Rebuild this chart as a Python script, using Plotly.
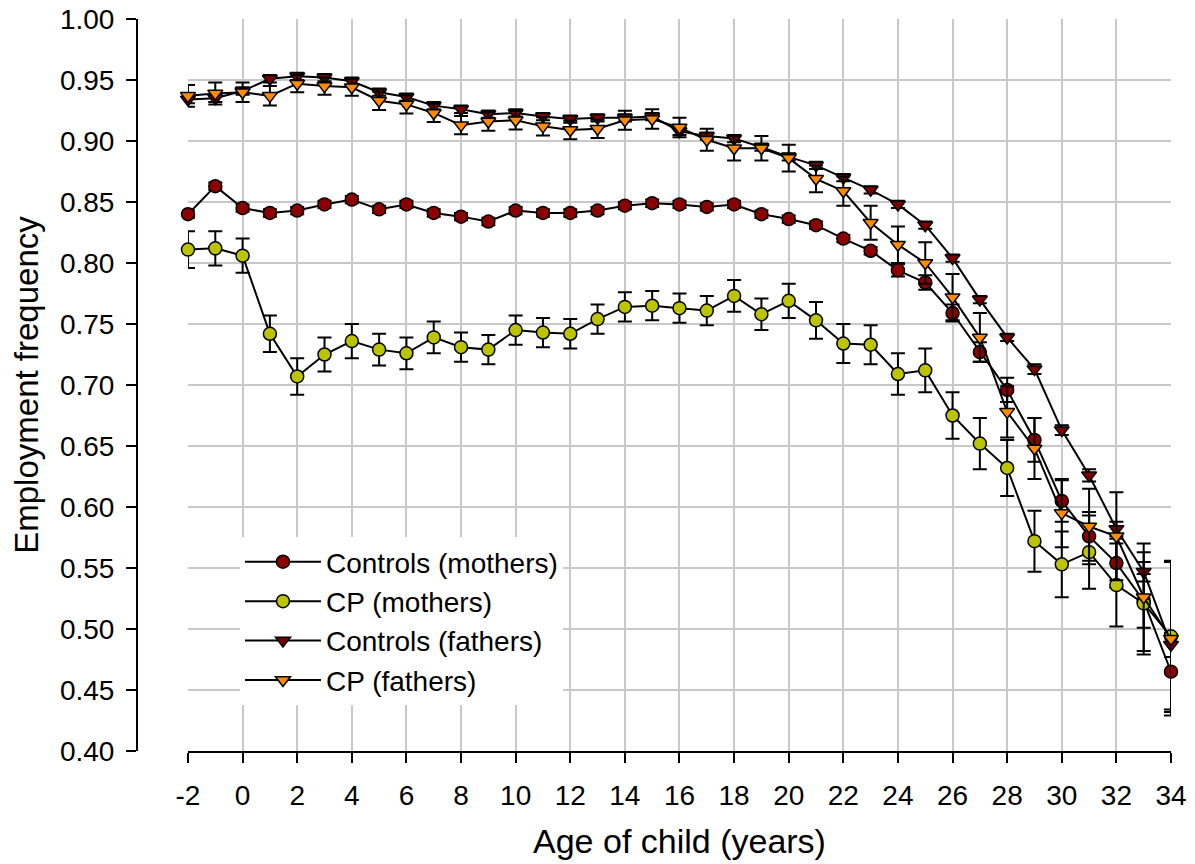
import plotly.graph_objects as go

ages = list(range(-2, 35))
x_tick_vals = list(range(-2, 35, 2))
x_tick_text = ["-2", "0", "2", "4", "6", "8", "10", "12", "14", "16", "18", "20",
               "22", "24", "26", "28", "30", "32", "34"]
y_tick_vals = [0.40, 0.45, 0.50, 0.55, 0.60, 0.65, 0.70, 0.75, 0.80, 0.85, 0.90, 0.95, 1.00]
y_tick_text = ["0.40", "0.45", "0.50", "0.55", "0.60", "0.65", "0.70", "0.75", "0.80",
               "0.85", "0.90", "0.95", "1.00"]

controls_mothers = [0.840, 0.863, 0.845, 0.841, 0.843, 0.848, 0.852, 0.844, 0.848, 0.841,
                    0.838, 0.834, 0.843, 0.841, 0.841, 0.843, 0.847, 0.849, 0.848, 0.846,
                    0.848, 0.840, 0.836, 0.831, 0.820, 0.810, 0.794, 0.784, 0.759, 0.727,
                    0.696, 0.655, 0.605, 0.576, 0.554, 0.523, 0.465]
controls_mothers_err = [0.003] * 26 + [0.005, 0.006, 0.007, 0.008, 0.010, 0.018,
                                       0.017, 0.020, 0.020, 0.022, 0.031]

cp_mothers = [0.811, 0.812, 0.806, 0.742, 0.707, 0.725, 0.736, 0.729, 0.726, 0.739,
              0.731, 0.729, 0.745, 0.743, 0.742, 0.754, 0.764, 0.765, 0.763, 0.761,
              0.773, 0.758, 0.769, 0.753, 0.734, 0.733, 0.709, 0.712, 0.675, 0.652,
              0.632, 0.572, 0.553, 0.563, 0.536, 0.521, 0.494]
cp_mothers_err = [0.015, 0.014, 0.014, 0.015, 0.015, 0.014, 0.014, 0.013, 0.013, 0.013,
                  0.012, 0.012, 0.012, 0.012, 0.012, 0.012, 0.012, 0.012, 0.012, 0.012,
                  0.013, 0.013, 0.014, 0.015, 0.016, 0.016, 0.017, 0.018, 0.019, 0.021,
                  0.023, 0.025, 0.027, 0.030, 0.034, 0.042, 0.062]

controls_fathers = [0.934, 0.935, 0.941, 0.951, 0.953, 0.952, 0.949, 0.940, 0.936, 0.929,
                    0.926, 0.922, 0.923, 0.920, 0.918, 0.919, 0.919, 0.920, 0.908, 0.904,
                    0.902, 0.895, 0.887, 0.880, 0.870, 0.860, 0.848, 0.831, 0.804, 0.770,
                    0.739, 0.713, 0.663, 0.626, 0.582, 0.547, 0.487]
controls_fathers_err = [0.003] * 30 + [0.003, 0.004, 0.004, 0.005, 0.006, 0.008, 0.010]

cp_fathers = [0.937, 0.939, 0.940, 0.937, 0.947, 0.945, 0.944, 0.933, 0.930, 0.923,
              0.913, 0.916, 0.917, 0.912, 0.909, 0.910, 0.917, 0.918, 0.911, 0.901,
              0.894, 0.894, 0.886, 0.869, 0.859, 0.833, 0.815, 0.800, 0.772, 0.739,
              0.678, 0.648, 0.595, 0.584, 0.576, 0.526, 0.492]
cp_fathers_err = [0.009, 0.009, 0.008, 0.008, 0.007, 0.007, 0.007, 0.0075, 0.0075, 0.0075,
                  0.0075, 0.0075, 0.0075, 0.0075, 0.0075, 0.0075, 0.0077, 0.008, 0.008, 0.009,
                  0.010, 0.010, 0.011, 0.011, 0.012, 0.014, 0.015, 0.017, 0.019, 0.020,
                  0.021, 0.025, 0.028, 0.031, 0.036, 0.044, 0.063]

series = [
    ("Controls (mothers)", controls_mothers, controls_mothers_err, "circle", "#8b0000", 1),
    ("Controls (fathers)", controls_fathers, controls_fathers_err, "triangle-down", "#7a0000", 3),
    ("CP (mothers)", cp_mothers, cp_mothers_err, "circle", "#bcc400", 2),
    ("CP (fathers)", cp_fathers, cp_fathers_err, "triangle-down", "#ff8c00", 4),
]

FONT = "Liberation Sans, Arial, Helvetica, sans-serif"

fig = go.Figure()
for name, vals, errs, sym, col, rank in series:
    fig.add_trace(go.Scatter(
        x=ages, y=vals, name=name, mode="lines+markers",
        line=dict(color="black", width=2),
        marker=dict(symbol=sym, size=13, color=col, line=dict(color="black", width=1.5)),
        error_y=dict(type="data", array=errs, visible=True, color="black",
                     thickness=2, width=7),
        cliponaxis=False, legendrank=rank,
    ))

fig.update_layout(
    width=1195, height=864,
    paper_bgcolor="white", plot_bgcolor="white",
    margin=dict(l=137, r=24, t=19, b=113, autoexpand=False),
    font=dict(family=FONT, size=28, color="black"),
    showlegend=True,
    legend=dict(
        x=0.0996, y=0.2923, xanchor="left", yanchor="top",
        bgcolor="white", borderwidth=0,
        font=dict(family=FONT, size=28, color="black"),
        tracegroupgap=0, itemwidth=76,
    ),
    xaxis=dict(
        domain=[0.0493, 1], range=[-2, 34], automargin=False,
        tickmode="array", tickvals=x_tick_vals, ticktext=x_tick_text,
        showgrid=True, gridcolor="#c8c8c8", gridwidth=2,
        showline=True, linecolor="black", linewidth=2,
        ticks="outside", ticklen=10, tickwidth=2, tickcolor="black",
        zeroline=False, ticklabelstandoff=8, ticklabeloverflow="allow",
        title=dict(text="Age of child (years)", font=dict(size=34), standoff=20),
    ),
    yaxis=dict(
        anchor="free", position=0, range=[0.40, 1.00], automargin=False,
        tickmode="array", tickvals=y_tick_vals, ticktext=y_tick_text,
        showgrid=True, gridcolor="#c8c8c8", gridwidth=2,
        showline=True, linecolor="black", linewidth=2,
        ticks="outside", ticklen=10, tickwidth=2, tickcolor="black",
        zeroline=False, ticklabelstandoff=6, ticklabeloverflow="allow",
        title=dict(text="Employment frequency", font=dict(size=33), standoff=10),
    ),
)

# remove the browser's default 8px page margin so the figure fills the window exactly
fig.write_html("out.html", config={"displayModeBar": False},
               post_script="document.body.style.margin='0';")
